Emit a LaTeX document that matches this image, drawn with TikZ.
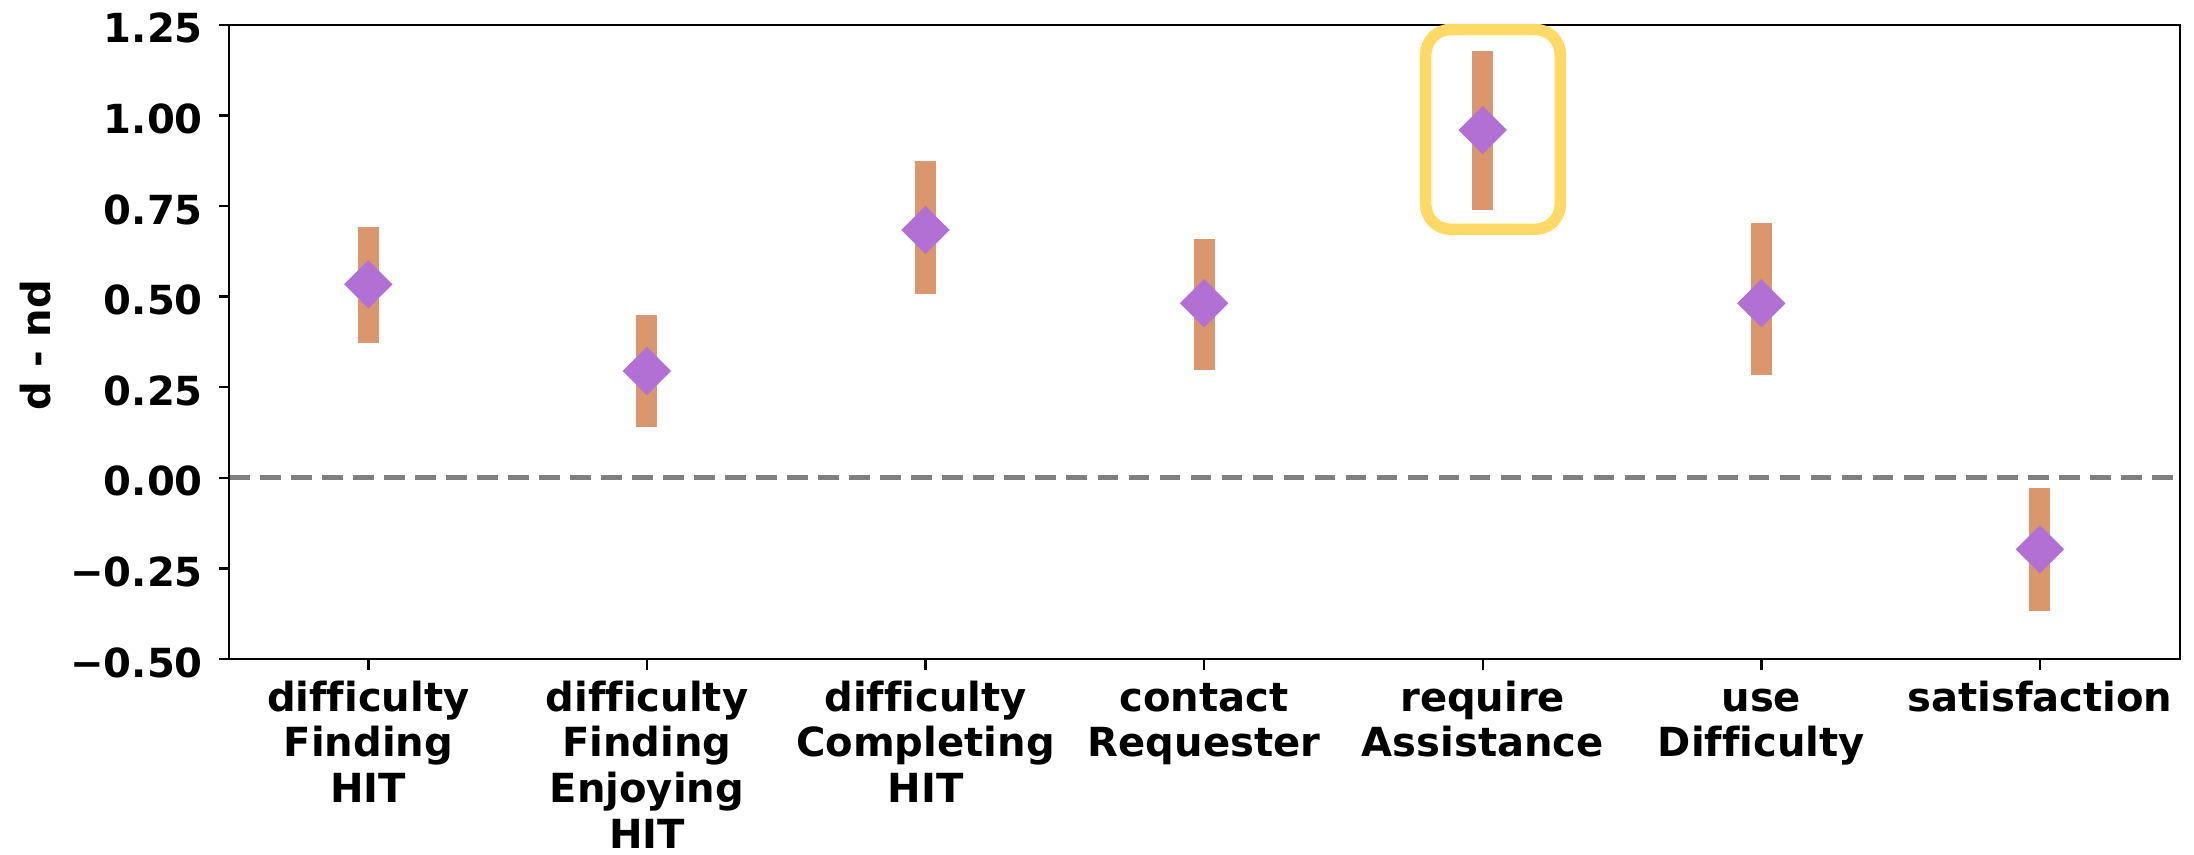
\documentclass[tikz,border=0pt]{standalone}
\usepackage{fontspec}
\setmainfont{DejaVu Sans}[Ligatures=NoCommon]
\usetikzlibrary{shapes.geometric}
\definecolor{barc}{RGB}{218,150,108}
\definecolor{dia}{RGB}{179,112,212}
\definecolor{hl}{RGB}{255,217,102}
\definecolor{zl}{RGB}{128,128,128}
\begin{document}
\begin{tikzpicture}[x=0.01cm,y=-0.01cm,
  lblfont/.style={font=\bfseries\fontsize{11.4pt}{13.0pt}\selectfont},
  ytl/.style={lblfont, anchor=east, inner sep=0pt},
  xtl/.style={lblfont, anchor=base, inner sep=0pt},
  spine/.style={line width=0.024cm, black},
  tickmark/.style={line width=0.024cm, black},
  errbar/.style={line width=0.21cm, barc, line cap=butt},
  marker/.style={diamond, aspect=1, fill=dia, draw=none, inner sep=0pt, minimum size=0.49cm},
  zeroline/.style={line width=0.055cm, zl, dash pattern=on 0.205cm off 0.105cm},
  highlight/.style={line width=0.115cm, hl, rounded corners=0.25cm}]
\useasboundingbox (0,0) rectangle (2194,854);
\fill[white] (0,0) rectangle (2194,854);

% zero line
\coordinate (z0) at (229,477.7);
\coordinate (z1) at (2180,477.7);
\draw[zeroline] (z0) -- (z1);

% error bars
\draw[errbar] (368.3,226.7) -- (368.3,343.3);
\draw[errbar] (646.9,315.0) -- (646.9,427.3);
\draw[errbar] (925.5,160.7) -- (925.5,294.0);
\draw[errbar] (1204.1,239.0) -- (1204.1,370.0);
\draw[errbar] (1482.7,51.0) -- (1482.7,210.0);
\draw[errbar] (1761.3,223.3) -- (1761.3,375.0);
\draw[errbar] (2039.9,488.3) -- (2039.9,610.7);

% markers
\node[marker] (p1) at (368.3,284.3) {};
\node[marker] (p2) at (646.9,371.0) {};
\node[marker] (p3) at (925.5,230.0) {};
\node[marker] (p4) at (1204.1,303.3) {};
\node[marker] (p5) at (1482.7,130.0) {};
\node[marker] (p6) at (1761.3,303.3) {};
\node[marker] (p7) at (2039.9,549.3) {};

% axes frame
\draw[spine] (229,24.8) rectangle (2180,658.9);

% y ticks
\foreach \yy in {24.8,115.4,206.0,296.6,387.1,477.7,568.3,658.9}
  \draw[tickmark] (218.5,\yy) -- (229,\yy);
\node[ytl] (y1) at (203.5,28.3) {1.25};
\node[ytl] (y2) at (203.5,118.9) {1.00};
\node[ytl] (y3) at (203.5,209.5) {0.75};
\node[ytl] (y4) at (203.5,300.1) {0.50};
\node[ytl] (y5) at (203.5,390.6) {0.25};
\node[ytl] (y6) at (203.5,481.2) {0.00};
\node[ytl] (y7) at (203.5,571.8) {−0.25};
\node[ytl] (y8) at (203.5,662.4) {−0.50};

% y axis label
\node[lblfont, rotate=90, inner sep=0pt] (ylabel) at (36,345) {d - nd};

% x ticks
\foreach \xx in {368.3,646.9,925.5,1204.1,1482.7,1761.3,2039.9}
  \draw[tickmark] (\xx,658.9) -- (\xx,669.5);
\node[xtl] (l1) at (368.3,711) {\begin{tabular}[t]{@{}c@{}}difficulty\\Finding\\HIT\end{tabular}};
\node[xtl] (l2) at (646.9,711) {\begin{tabular}[t]{@{}c@{}}difficulty\\Finding\\Enjoying\\HIT\end{tabular}};
\node[xtl] (l3) at (925.5,711) {\begin{tabular}[t]{@{}c@{}}difficulty\\Completing\\HIT\end{tabular}};
\node[xtl] (l4) at (1204.1,711) {\begin{tabular}[t]{@{}c@{}}contact\\Requester\end{tabular}};
\node[xtl] (l5) at (1482.7,711) {\begin{tabular}[t]{@{}c@{}}require\\Assistance\end{tabular}};
\node[xtl] (l6) at (1761.3,711) {\begin{tabular}[t]{@{}c@{}}use\\Difficulty\end{tabular}};
\node[xtl] (l7) at (2039.9,711) {\begin{tabular}[t]{@{}c@{}}satisfaction\end{tabular}};

% highlight box
\draw[highlight] (1425.7,29.5) rectangle (1560.3,229.3);
\end{tikzpicture}
\end{document}
